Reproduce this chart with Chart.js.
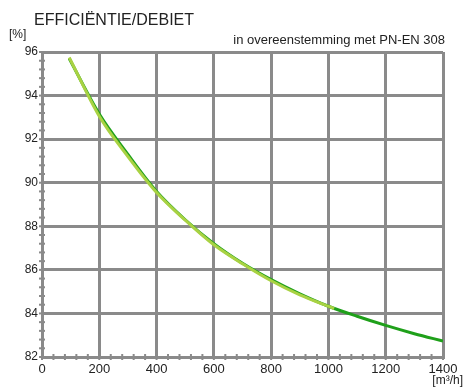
<!DOCTYPE html>
<html>
<head>
<meta charset="utf-8">
<script src="https://cdn.jsdelivr.net/npm/chart.js@4"></script>
<style>
  html, body { margin: 0; padding: 0; background: #fff; }
  #wrap { width: 475px; height: 390px; position: relative; }
</style>
</head>
<body>
<div id="wrap"><canvas id="chart"></canvas></div>
<script>
// ---- Data ----
const flowDark = [95, 200, 300, 400, 500, 600, 700, 800, 900, 1000, 1100, 1200, 1300, 1400];
const effDark  = [95.7, 93.15, 91.3, 89.6, 88.3, 87.2, 86.3, 85.55, 84.9, 84.33, 83.87, 83.45, 83.07, 82.73];
const flowLight = [95, 200, 300, 400, 500, 600, 700, 800, 900, 1020];
const effLight  = [95.75, 93.05, 91.2, 89.55, 88.28, 87.15, 86.28, 85.5, 84.85, 84.22];
const xTicks = [0, 200, 400, 600, 800, 1000, 1200, 1400];
const yTicks = [82, 84, 86, 88, 90, 92, 94, 96];

const toPts = (xs, ys) => xs.map((x, i) => ({ x, y: ys[i] }));
const GRID = '#8a8a8a';
const TXT = '#222';
const FONT = '"Liberation Sans", Arial, sans-serif';

// minor ticks straddling the axes + header texts
const decor = {
  id: 'decor',
  afterDraw(chart) {
    const { ctx, scales: { x, y } } = chart;
    ctx.save();
    ctx.strokeStyle = GRID;
    ctx.lineWidth = 2;
    const x0 = x.getPixelForValue(0), y0 = y.getPixelForValue(82);
    for (let v = 0; v <= 1400; v += 40) {
      const px = x.getPixelForValue(v);
      ctx.beginPath(); ctx.moveTo(px, y0 - 3); ctx.lineTo(px, y0 + 3); ctx.stroke();
    }
    for (let k = 0; k <= 35; k++) {
      const py = y.getPixelForValue(82 + k * 0.4);
      ctx.beginPath(); ctx.moveTo(x0 - 3, py); ctx.lineTo(x0 + 3, py); ctx.stroke();
    }
    ctx.fillStyle = TXT;
    ctx.textBaseline = 'alphabetic';
    ctx.font = '16px ' + FONT;
    ctx.textAlign = 'left';
    ctx.fillText('EFFICIËNTIE/DEBIET', 34, 25);
    ctx.font = '12px ' + FONT;
    ctx.fillText('[%]', 9, 38);
    ctx.font = '13px ' + FONT;
    ctx.textAlign = 'right';
    ctx.fillText('in overeenstemming met PN-EN 308', 445, 44);
    ctx.font = '12px ' + FONT;
    ctx.fillText('[m³/h]', 463, 384);
    ctx.restore();
  }
};

new Chart(document.getElementById('chart'), {
  type: 'line',
  data: {
    datasets: [
      { label: 'light', data: toPts(flowLight, effLight), borderColor: '#a9d243', borderWidth: 3,
        pointRadius: 0, cubicInterpolationMode: 'monotone', order: 0 },
      { label: 'dark', data: toPts(flowDark, effDark), borderColor: '#1fa01a', borderWidth: 3,
        pointRadius: 0, cubicInterpolationMode: 'monotone', order: 1 }
    ]
  },
  options: {
    responsive: true,
    maintainAspectRatio: false,
    animation: false,
    layout: { padding: { left: 0, right: 32, top: 52, bottom: 0 } },
    plugins: { legend: { display: false }, tooltip: { enabled: false } },
    scales: {
      x: {
        type: 'linear', min: 0, max: 1400,
        afterBuildTicks: s => { s.ticks = xTicks.map(v => ({ value: v })); },
        afterFit: s => { s.height = 33; },
        grid: { color: GRID, lineWidth: 3, drawTicks: false },
        border: { color: GRID, width: 3 },
        ticks: { color: TXT, font: { family: FONT, size: 13 }, padding: 5, maxRotation: 0,
                 callback: v => String(v) }
      },
      y: {
        min: 82, max: 96,
        afterBuildTicks: s => { s.ticks = yTicks.map(v => ({ value: v })); },
        afterFit: s => { s.width = 42; },
        grid: { color: GRID, lineWidth: 3, drawTicks: false },
        border: { color: GRID, width: 3 },
        ticks: { color: TXT, font: { family: FONT, size: 12 }, padding: 4 }
      }
    }
  },
  plugins: [decor]
});
</script>
</body>
</html>
